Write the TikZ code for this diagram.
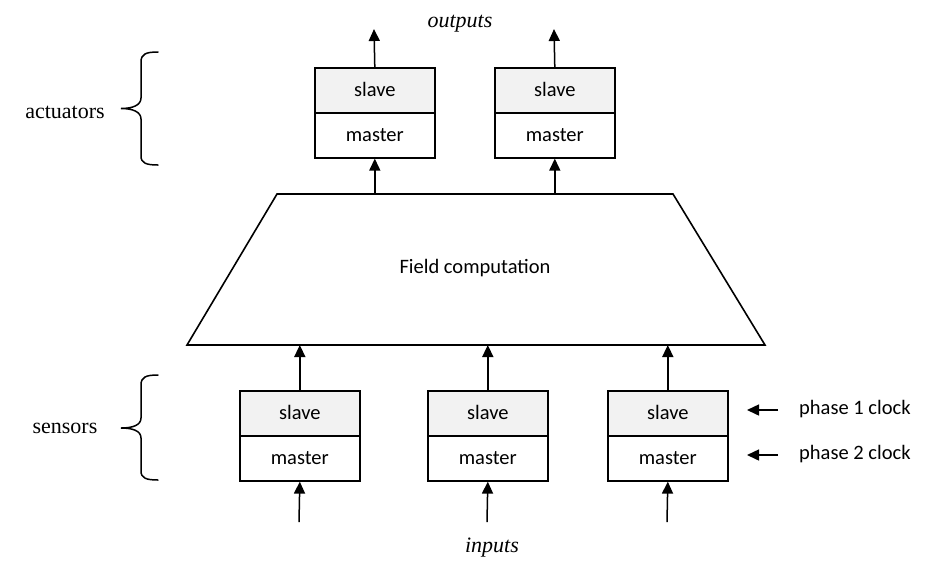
\documentclass[tikz,border=0pt]{standalone}
\usepackage{fontspec}
\setmainfont{Carlito}
\newfontfamily\serifit{Liberation Serif}
\usetikzlibrary{arrows.meta}
\definecolor{slavegray}{HTML}{F2F2F2}
\begin{document}
\begin{tikzpicture}[x=1pt,y=-1pt,
  sfont/.style={font=\fontsize{20.5}{24}\selectfont},
  rfont/.style={font=\fontsize{22}{26}\serifit},
  half/.style={draw=black,line width=1.6pt,minimum width=120pt,minimum height=45pt,inner sep=0pt,anchor=north west,sfont},
  slavebox/.style={half,fill=slavegray},
  masterbox/.style={half,fill=white},
  arr/.style={line width=1.5pt,-{Triangle[length=12pt,width=11pt]}},
  brc/.style={line width=1.5pt,line cap=round},
]
\useasboundingbox (0,0) rectangle (934,574);
% top actuators
\node[slavebox] (as1) at (314,67) {\raisebox{1.5pt}{slave}};
\node[masterbox] (am1) at (314,112) {\raisebox{1.5pt}{master}};
\node[slavebox] (as2) at (494,67) {\raisebox{1.5pt}{slave}};
\node[masterbox] (am2) at (494,112) {\raisebox{1.5pt}{master}};
% trapezoid
\coordinate (tl) at (277,194);
\coordinate (tr) at (673,194);
\coordinate (br) at (765,345);
\coordinate (bl) at (187,345);
\draw[line width=1.6pt,line join=miter] (tl) -- (tr) -- (br) -- (bl) -- cycle;
\node[sfont] (F) at (475,268) {Field computation};
% sensors
\node[slavebox] (ss1) at (239,390) {\raisebox{1.5pt}{slave}};
\node[masterbox] (sm1) at (239,435) {\raisebox{1.5pt}{master}};
\node[slavebox] (ss2) at (427,390) {\raisebox{1.5pt}{slave}};
\node[masterbox] (sm2) at (427,435) {\raisebox{1.5pt}{master}};
\node[slavebox] (ss3) at (607,390) {\raisebox{1.5pt}{slave}};
\node[masterbox] (sm3) at (607,435) {\raisebox{1.5pt}{master}};
% outputs
\coordinate (o1) at (374,29);
\coordinate (o2) at (554,29);
\draw[arr] (as1.north) -- (o1);
\draw[arr] (as2.north) -- (o2);
\node[font=\fontsize{22}{26}\serifit\itshape] (outl) at (460,24) {outputs};
% field to actuators
\draw[arr] (am1.south |- tl) -- (am1.south);
\draw[arr] (am2.south |- tl) -- (am2.south);
% sensors to field
\draw[arr] (ss1.north) -- (ss1.north |- bl);
\draw[arr] (ss2.north) -- (ss2.north |- bl);
\draw[arr] (ss3.north) -- (ss3.north |- bl);
% inputs
\coordinate (i1) at (299,522);
\coordinate (i2) at (487,522);
\coordinate (i3) at (667,522);
\draw[arr] (i1) -- (sm1.south);
\draw[arr] (i2) -- (sm2.south);
\draw[arr] (i3) -- (sm3.south);
\node[font=\fontsize{22}{26}\serifit\itshape] (inl) at (492,548) {inputs};
% clocks
\node[sfont,anchor=west,inner sep=0pt] (c1) at (799,409) {phase 1 clock};
\node[sfont,anchor=west,inner sep=0pt] (c2) at (799,454) {phase 2 clock};
\coordinate (c1s) at (778,410);
\coordinate (c2s) at (778,455);
\coordinate (c1e) at (747,410);
\coordinate (c2e) at (747,455);
\draw[arr] (c1s) -- (c1e);
\draw[arr] (c2s) -- (c2e);
% braces
\draw[brc] (158,52) .. controls (146,52) and (141,54) .. (141,62) -- (141,98)
  .. controls (141,105) and (133,108.5) .. (121,108.5)
  .. controls (133,108.5) and (141,112) .. (141,119) -- (141,156)
  .. controls (141,163) and (146,165) .. (158,165);
\draw[brc] (158,375) .. controls (146,375) and (141,377) .. (141,385) -- (141,418)
  .. controls (141,425) and (133,428) .. (121,428)
  .. controls (133,428) and (141,431) .. (141,438) -- (141,471)
  .. controls (141,478) and (146,480) .. (158,480);
\node[rfont] (act) at (65,112) {actuators};
\node[rfont] (sen) at (65,428) {sensors};
\end{tikzpicture}
\end{document}
